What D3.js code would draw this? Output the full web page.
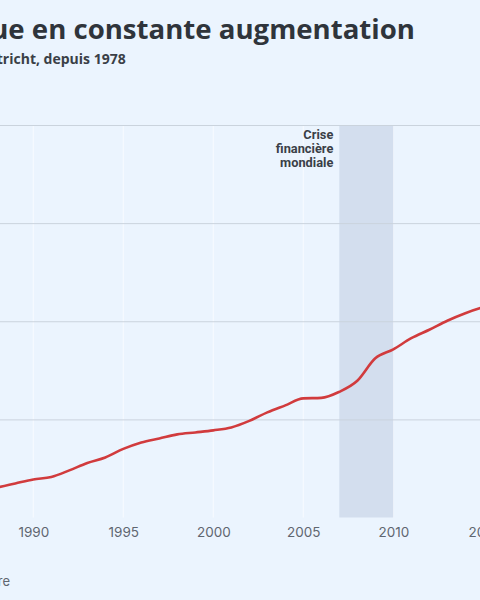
<!DOCTYPE html>
<html>
<head>
<meta charset="utf-8">
<script src="https://cdn.jsdelivr.net/npm/d3@7"></script>
<style>
  html, body { margin: 0; padding: 0; background: #EBF4FE; overflow: hidden; }
  svg { display: block; }
</style>
</head>
<body>
<svg id="chart" width="480" height="600"></svg>
<script>
// ---- data ----
const years = [1978,1979,1980,1981,1982,1983,1984,1985,1986,1987,1988,1989,1990,1991,1992,1993,1994,1995,1996,1997,1998,1999,2000,2001,2002,2003,2004,2005,2006,2007,2008,2009,2010,2011,2012,2013,2014,2015,2016,2017,2018,2019,2020,2021,2022,2023];
const debt  = [73,82,92,110,135,160,190,220,245,270,306,347,388,413,480,556,612,699,765,806,847,867,888,918,985,1071,1143,1214,1219,1281,1393,1622,1714,1827,1913,2005,2082,2143,2190,2260,2315,2380,2650,2820,2950,3100];
const yTicks = [1000, 2000, 3000, 4000];
const xTicks = [1990,1995,2000,2005,2010,2015];
const crisis = [2007, 2010];
const crisisLabel = ["Crise", "financière", "mondiale"];
const titleText = "ue en constante augmentation";
const subtitleText = "tricht, depuis 1978";
const footText = "re";

const svg = d3.select("#chart");
const W = 480, H = 600;
svg.append("rect").attr("width", W).attr("height", H).attr("fill", "#EBF4FE");

const x = d3.scaleLinear().domain([1990, 2010]).range([33.3, 393.3]);
const y = d3.scaleLinear().domain([0, 4000]).range([517.5, 125]);

const data = years.map((yr, i) => ({ yr, v: debt[i] }));

// vertical grid
svg.append("g").selectAll("line").data(xTicks).join("line")
  .attr("x1", d => x(d)).attr("x2", d => x(d))
  .attr("y1", y(4000)).attr("y2", y(0))
  .attr("stroke", "#F6FAFF").attr("stroke-width", 1.2);

// crisis band
svg.append("rect")
  .attr("x", x(crisis[0])).attr("width", x(crisis[1]) - x(crisis[0]))
  .attr("y", y(4000)).attr("height", y(0) - y(4000))
  .attr("fill", "#D3DEEE");

// horizontal grid
svg.append("g").selectAll("line").data(yTicks).join("line")
  .attr("x1", 0).attr("x2", W)
  .attr("y1", d => y(d) + 0.5).attr("y2", d => y(d) + 0.5)
  .attr("stroke", "#CAD3DD").attr("stroke-width", 1);

// x axis labels
const xAxis = d3.axisBottom(x).tickValues(xTicks).tickFormat(d3.format("d")).tickSize(0).tickPadding(0);
const gx = svg.append("g").attr("transform", `translate(0, ${y(0)})`).call(xAxis);
gx.select(".domain").remove();
gx.selectAll("text")
  .attr("dy", null).attr("y", 19.5)
  .attr("font-family", "Inter, 'Noto Sans', sans-serif")
  .attr("font-size", 13.5).attr("fill", "#5f6670");

// line
const line = d3.line().x(d => x(d.yr)).y(d => y(d.v)).curve(d3.curveMonotoneX);
svg.append("path").datum(data)
  .attr("d", line).attr("fill", "none")
  .attr("stroke", "#D13B3D").attr("stroke-width", 2.6)
  .attr("stroke-linejoin", "round").attr("stroke-linecap", "round");

// crisis annotation
const ann = svg.append("text")
  .attr("text-anchor", "end")
  .attr("font-family", "Roboto, 'Noto Sans', sans-serif")
  .attr("font-weight", 700).attr("font-size", 12.8).attr("fill", "#3a3f47");
crisisLabel.forEach((t, i) => {
  ann.append("tspan").attr("x", x(crisis[0]) - 6).attr("y", 138.5 + i * 14.3).text(t);
});

// title & subtitle
svg.append("text").attr("x", 415).attr("y", 38.5).attr("text-anchor", "end")
  .attr("font-family", "'Open Sans', 'Noto Sans', sans-serif")
  .attr("font-weight", 700).attr("font-size", 27.6).attr("fill", "#2f343b")
  .text(titleText);
svg.append("text").attr("x", 125.7).attr("y", 63.5).attr("text-anchor", "end")
  .attr("font-family", "'Open Sans', 'Noto Sans', sans-serif")
  .attr("font-weight", 700).attr("font-size", 14).attr("fill", "#3a3f47")
  .text(subtitleText);

// footer fragment
svg.append("text").attr("x", 10).attr("y", 585.5).attr("text-anchor", "end")
  .attr("font-family", "Inter, 'Noto Sans', sans-serif")
  .attr("font-size", 13).attr("fill", "#5f6670")
  .text(footText);
</script>
</body>
</html>
